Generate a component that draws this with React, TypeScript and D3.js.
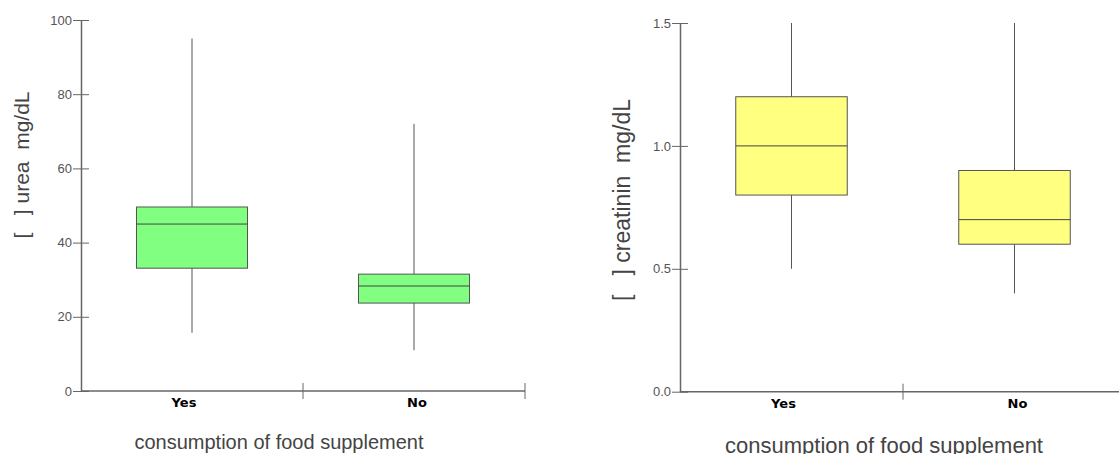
import React, { useRef, useEffect } from 'react';
import * as d3 from 'd3';

const categories = ['Yes', 'No'];

// urea, mg/dL
const ureaMin = [15.7, 11];
const ureaQ1 = [33.1, 23.7];
const ureaMedian = [45, 28.3];
const ureaQ3 = [49.6, 31.5];
const ureaMax = [95, 72];
const ureaTicks = [0, 20, 40, 60, 80, 100];

// creatinin, mg/dL
const creaMin = [0.5, 0.4];
const creaQ1 = [0.8, 0.6];
const creaMedian = [1.0, 0.7];
const creaQ3 = [1.2, 0.9];
const creaMax = [1.5, 1.5];
const creaTicks = [0, 0.5, 1.0, 1.5];

const xTitle = 'consumption of food supplement';

function drawPanel(g, opts) {
  const { left, right, top, bottom, domain, ticks, fmt, min, q1, med, q3, max, fill, yLabel, yLabelX, yLabelY, yLabelSize, titleX, titleY, titleSize } = opts;
  const axisColor = '#666';

  const y = d3.scaleLinear().domain(domain).range([bottom, top]);
  const x = d3.scaleBand().domain(categories).range([left, right]);

  const data = categories.map((c, i) => ({ c, min: min[i], q1: q1[i], med: med[i], q3: q3[i], max: max[i] }));

  // whiskers
  g.selectAll('line.whisker')
    .data(data)
    .join('line')
    .attr('class', 'whisker')
    .attr('x1', (d) => x(d.c) + x.bandwidth() / 2)
    .attr('x2', (d) => x(d.c) + x.bandwidth() / 2)
    .attr('y1', (d) => y(d.min))
    .attr('y2', (d) => y(d.max))
    .attr('stroke', '#555')
    .attr('stroke-width', 1);

  const bw = x.bandwidth() / 2;
  g.selectAll('rect.box')
    .data(data)
    .join('rect')
    .attr('class', 'box')
    .attr('x', (d) => x(d.c) + x.bandwidth() / 2 - bw / 2)
    .attr('width', bw)
    .attr('y', (d) => y(d.q3))
    .attr('height', (d) => y(d.q1) - y(d.q3))
    .attr('fill', fill)
    .attr('stroke', '#555')
    .attr('stroke-width', 1);

  g.selectAll('line.median')
    .data(data)
    .join('line')
    .attr('class', 'median')
    .attr('x1', (d) => x(d.c) + x.bandwidth() / 2 - bw / 2)
    .attr('x2', (d) => x(d.c) + x.bandwidth() / 2 + bw / 2)
    .attr('y1', (d) => y(d.med))
    .attr('y2', (d) => y(d.med))
    .attr('stroke', '#444')
    .attr('stroke-width', 1);

  // y axis
  const yAxis = g
    .append('g')
    .attr('transform', `translate(${left},0)`)
    .call(d3.axisLeft(y).tickValues(ticks).tickFormat(fmt).tickSize(8).tickSizeOuter(0));
  yAxis.select('.domain').attr('stroke', axisColor).attr('stroke-width', 1.5);
  yAxis.selectAll('.tick line').attr('x1', 8).attr('x2', -8).attr('stroke', axisColor);
  yAxis
    .selectAll('.tick text')
    .attr('x', -9)
    .attr('fill', '#555')
    .attr('font-size', 13)
    .attr('font-family', 'Liberation Sans, Arial, sans-serif');

  // x axis
  g.append('line')
    .attr('x1', left)
    .attr('x2', right)
    .attr('y1', bottom)
    .attr('y2', bottom)
    .attr('stroke', axisColor)
    .attr('stroke-width', 1.5);
  g.selectAll('line.xtick')
    .data(categories)
    .join('line')
    .attr('class', 'xtick')
    .attr('x1', (d) => x(d) + x.bandwidth())
    .attr('x2', (d) => x(d) + x.bandwidth())
    .attr('y1', bottom - 8)
    .attr('y2', bottom + 8)
    .attr('stroke', axisColor);
  g.selectAll('text.xlabel')
    .data(categories)
    .join('text')
    .attr('class', 'xlabel')
    .attr('x', (d) => x(d) + x.bandwidth() / 2 + (d === 'Yes' ? -8 : 3))
    .attr('y', bottom + 16)
    .attr('text-anchor', 'middle')
    .attr('font-family', 'DejaVu Sans, Verdana, sans-serif')
    .attr('font-weight', 'bold')
    .attr('font-size', 13)
    .attr('fill', '#000')
    .text((d) => d);

  g.append('text')
    .attr('transform', `translate(${yLabelX},${yLabelY}) rotate(-90)`)
    .attr('text-anchor', 'middle')
    .attr('dy', '0.35em')
    .attr('font-family', 'Liberation Sans, Arial, sans-serif')
    .attr('font-size', yLabelSize)
    .attr('fill', '#444')
    .style('white-space', 'pre')
    .text(yLabel);

  g.append('text')
    .attr('x', titleX)
    .attr('y', titleY)
    .attr('text-anchor', 'middle')
    .attr('font-family', 'Liberation Sans, Arial, sans-serif')
    .attr('font-size', titleSize)
    .attr('fill', '#444')
    .text(xTitle);
}

function App() {
  const svgRef = useRef(null);

  useEffect(() => {
    const svg = d3.select(svgRef.current);
    svg.selectAll('*').remove();

    drawPanel(svg.append('g'), {
      left: 81, right: 525, top: 20, bottom: 391,
      domain: [0, 100], ticks: ureaTicks, fmt: d3.format('d'),
      min: ureaMin, q1: ureaQ1, med: ureaMedian, q3: ureaQ3, max: ureaMax,
      fill: '#80FF80',
      yLabel: '[   ] urea  mg/dL', yLabelX: 22, yLabelY: 165, yLabelSize: 21,
      titleX: 279, titleY: 449, titleSize: 20,
    });

    drawPanel(svg.append('g'), {
      left: 680, right: 1126, top: 23, bottom: 391.7,
      domain: [0, 1.5], ticks: creaTicks, fmt: d3.format('.1f'),
      min: creaMin, q1: creaQ1, med: creaMedian, q3: creaQ3, max: creaMax,
      fill: '#FFFF80',
      yLabel: '[   ] creatinin  mg/dL', yLabelX: 622, yLabelY: 200, yLabelSize: 23,
      titleX: 884, titleY: 453, titleSize: 22,
    });
  }, []);

  return (
    <svg
      ref={svgRef}
      width={1119}
      height={454}
      style={{ position: 'absolute', left: 0, top: 0, background: '#fff' }}
    ></svg>
  );
}

export default App;
